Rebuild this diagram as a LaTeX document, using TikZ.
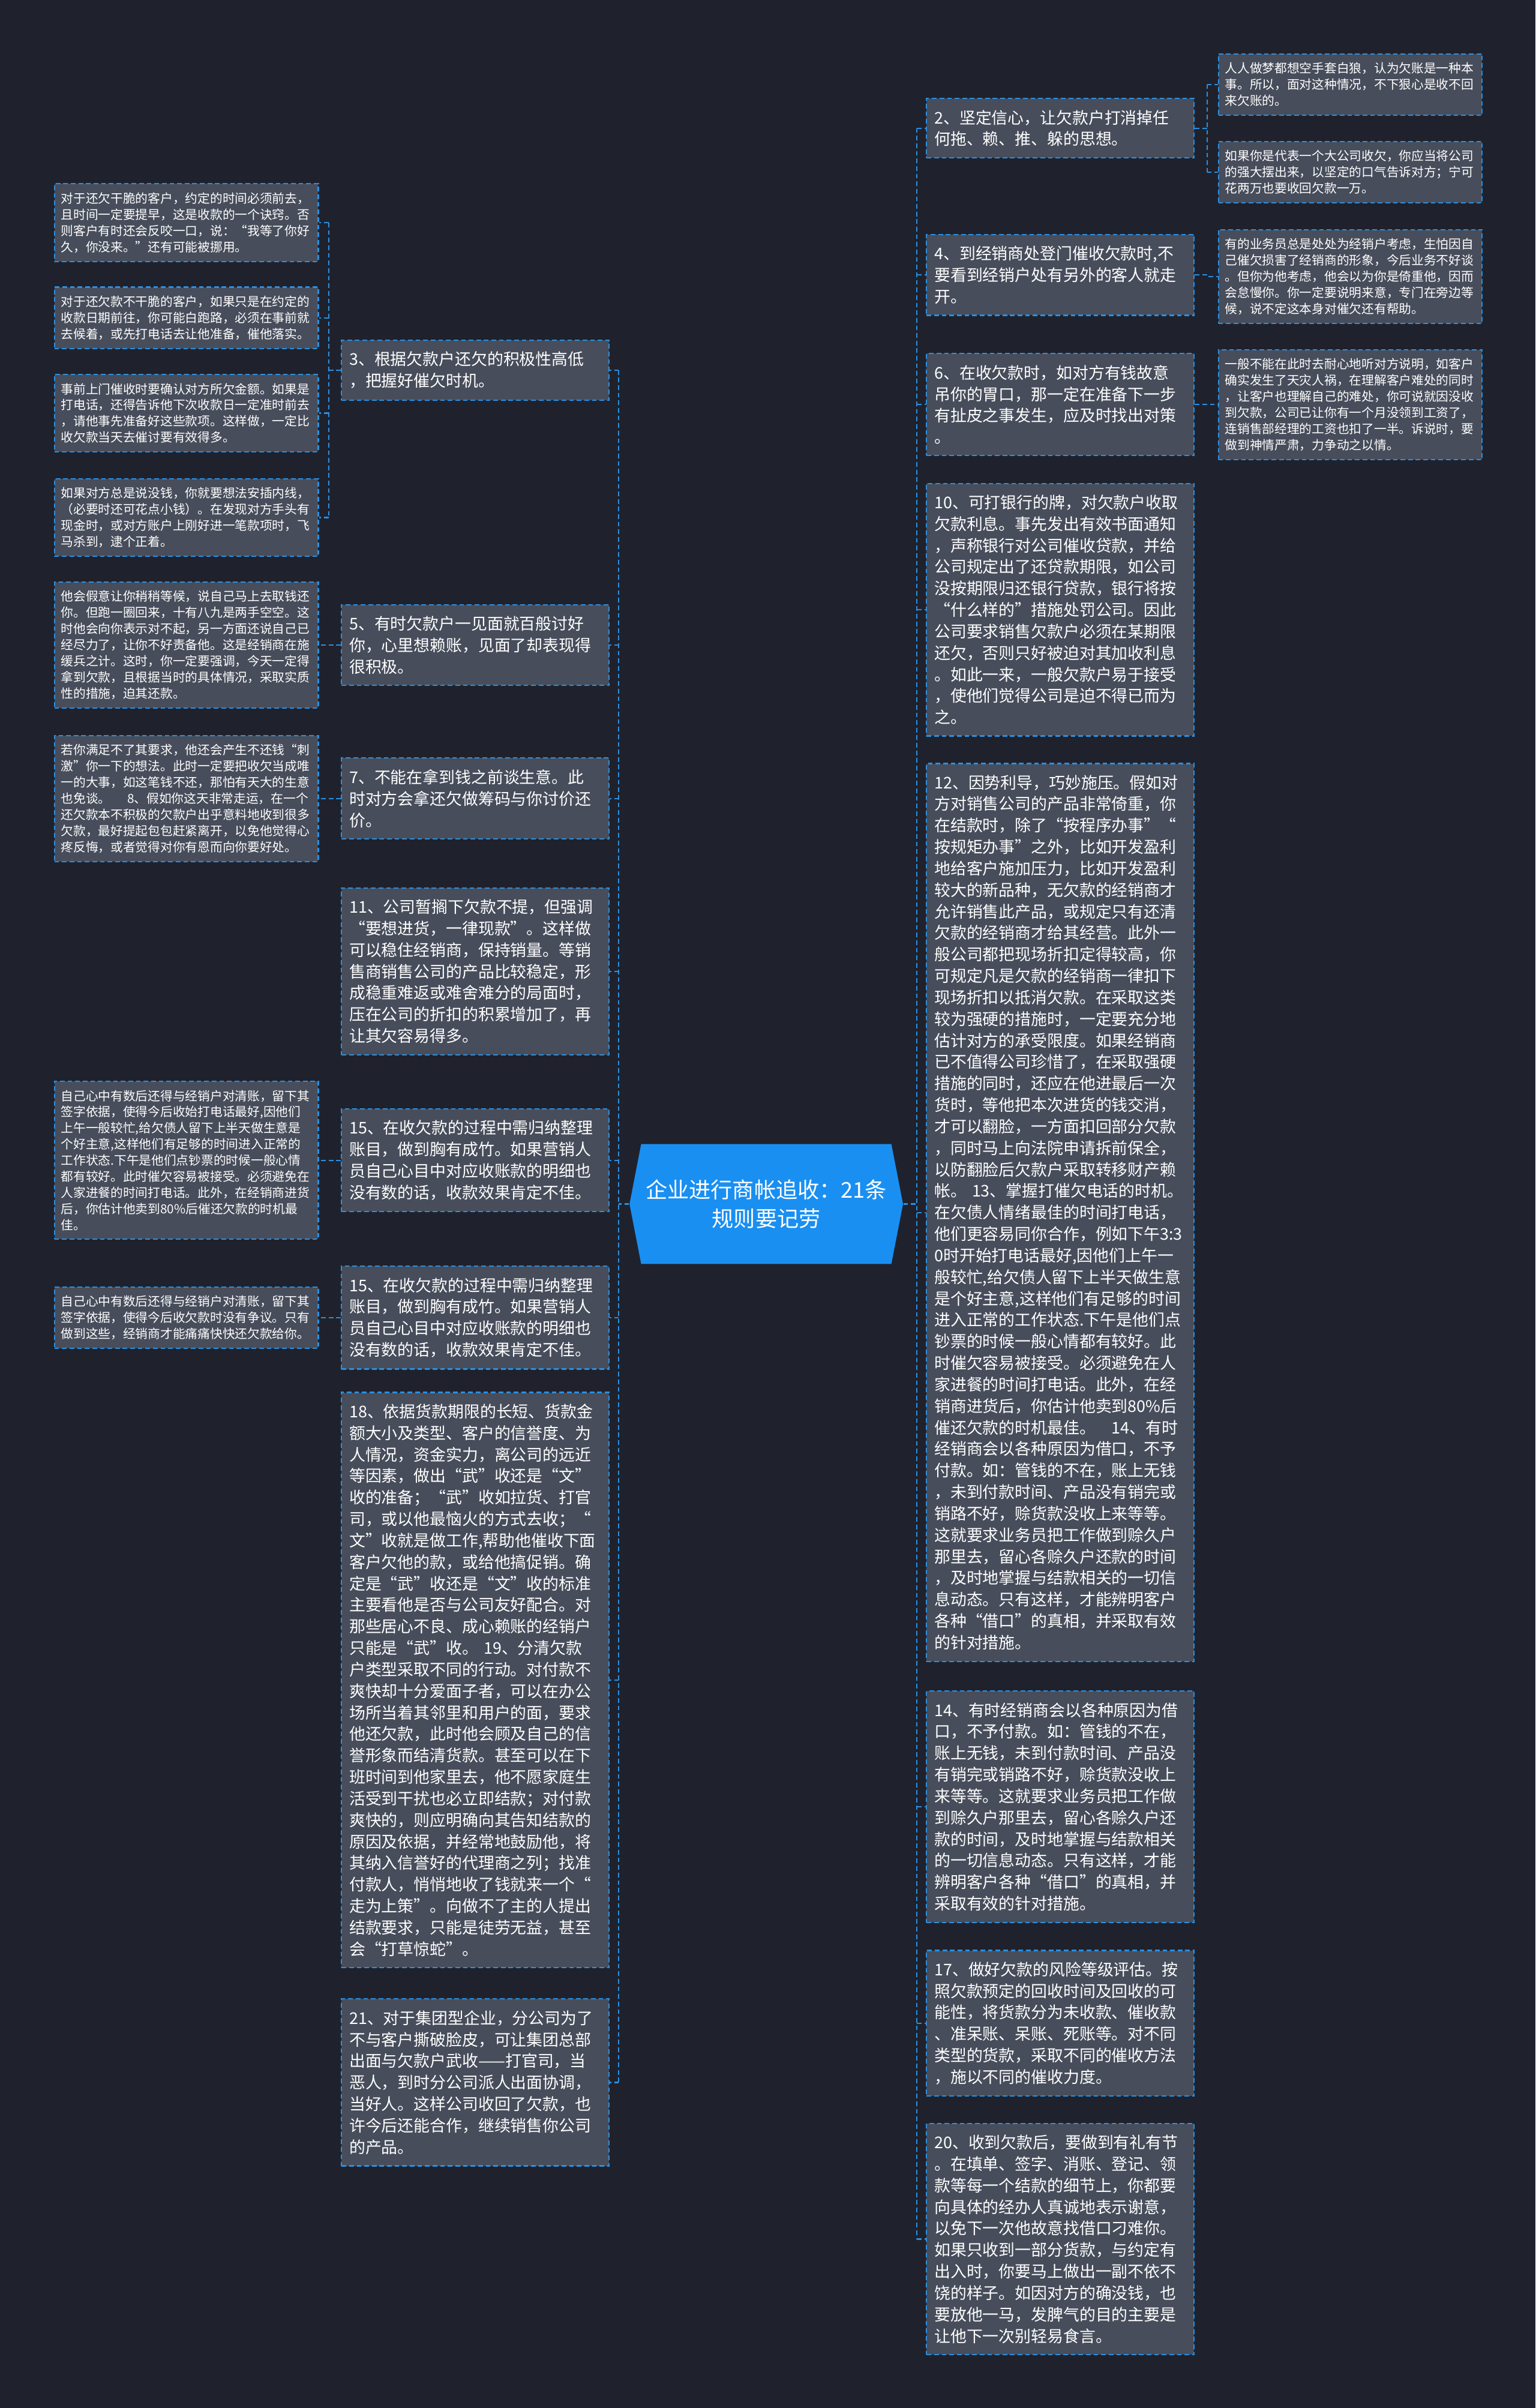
\documentclass[tikz,border=0pt]{standalone}
\usepackage{fontspec}
\setmainfont{Noto Sans CJK SC}
\usepackage{xcolor}
\usepackage{tikz}
\usetikzlibrary{shapes.symbols, calc}

\definecolor{bgc}{HTML}{1F222D}
\definecolor{boxc}{HTML}{474D5B}
\definecolor{linec}{HTML}{2B8FE0}
\definecolor{hubc}{HTML}{1A8FF2}

\begin{document}
\begin{tikzpicture}[
    x=0.0256cm, y=-0.0256cm,
    itembox/.style={draw=linec, line width=0.6pt, dash pattern=on 2.2pt off 1.4pt, fill=boxc, text=white,
        anchor=west, align=left, text width=4.2cm, inner xsep=0.13cm, inner ysep=0.19cm,
        font=\fontsize{7.65}{10.2}\selectfont},
    notebox/.style={itembox, text width=4.18cm, inner xsep=0.11cm, inner ysep=0.145cm,
        font=\fontsize{5.9}{7.65}\selectfont},
    hub/.style={shape=signal, signal to=west and east, signal pointer angle=158, fill=hubc, text=white,
        align=center, minimum width=4.56cm, minimum height=2cm, inner sep=0pt,
        font=\fontsize{10.3}{13.5}\selectfont},
    link/.style={draw=linec, line width=0.6pt, dash pattern=on 2.2pt off 1.4pt},
]
    \useasboundingbox (0,0) rectangle (1000,1568);
    \fill[bgc] (0,0) rectangle (1000,1568);

    % centre
    \node[hub] (ctr) at (499,784) {企业进行商帐追收：21条\\规则要记劳};

    % right column
    \node[itembox] (r2) at (603,83.5) {2、坚定信心，让欠款户打消掉任\\何拖、赖、推、躲的思想。};
    \node[itembox] (r4) at (603,179) {4、到经销商处登门催收欠款时,不\\要看到经销户处有另外的客人就走\\开。};
    \node[itembox] (r6) at (603,263.5) {6、在收欠款时，如对方有钱故意\\吊你的胃口，那一定在准备下一步\\有扯皮之事发生，应及时找出对策\\。};
    \node[itembox] (r10) at (603,397) {10、可打银行的牌，对欠款户收取\\欠款利息。事先发出有效书面通知\\，声称银行对公司催收贷款，并给\\公司规定出了还贷款期限，如公司\\没按期限归还银行贷款，银行将按\\“什么样的”措施处罚公司。因此\\公司要求销售欠款户必须在某期限\\还欠，否则只好被迫对其加收利息\\。如此一来，一般欠款户易于接受\\，使他们觉得公司是迫不得已而为\\之。};
    \node[itembox] (r12) at (603,789.5) {12、因势利导，巧妙施压。假如对\\方对销售公司的产品非常倚重，你\\在结款时，除了“按程序办事”“\\按规矩办事”之外，比如开发盈利\\地给客户施加压力，比如开发盈利\\较大的新品种，无欠款的经销商才\\允许销售此产品，或规定只有还清\\欠款的经销商才给其经营。此外一\\般公司都把现场折扣定得较高，你\\可规定凡是欠款的经销商一律扣下\\现场折扣以抵消欠款。在采取这类\\较为强硬的措施时，一定要充分地\\估计对方的承受限度。如果经销商\\已不值得公司珍惜了，在采取强硬\\措施的同时，还应在他进最后一次\\货时，等他把本次进货的钱交消，\\才可以翻脸，一方面扣回部分欠款\\，同时马上向法院申请拆前保全，\\以防翻脸后欠款户采取转移财产赖\\帐。~13、掌握打催欠电话的时机。\\在欠债人情绪最佳的时间打电话，\\他们更容易同你合作，例如下午3:3\\0时开始打电话最好,因他们上午一\\般较忙,给欠债人留下上半天做生意\\是个好主意,这样他们有足够的时间\\进入正常的工作状态.下午是他们点\\钞票的时候一般心情都有较好。此\\时催欠容易被接受。必须避免在人\\家进餐的时间打电话。此外，在经\\销商进货后，你估计他卖到80\%后\\催还欠款的时机最佳。~~~14、有时\\经销商会以各种原因为借口，不予\\付款。如：管钱的不在，账上无钱\\，未到付款时间、产品没有销完或\\销路不好，赊货款没收上来等等。\\这就要求业务员把工作做到赊久户\\那里去，留心各赊久户还款的时间\\，及时地掌握与结款相关的一切信\\息动态。只有这样，才能辨明客户\\各种“借口”的真相，并采取有效\\的针对措施。};
    \node[itembox] (r14) at (603,1176.5) {14、有时经销商会以各种原因为借\\口，不予付款。如：管钱的不在，\\账上无钱，未到付款时间、产品没\\有销完或销路不好，赊货款没收上\\来等等。这就要求业务员把工作做\\到赊久户那里去，留心各赊久户还\\款的时间，及时地掌握与结款相关\\的一切信息动态。只有这样，才能\\辨明客户各种“借口”的真相，并\\采取有效的针对措施。};
    \node[itembox] (r17) at (603,1317.5) {17、做好欠款的风险等级评估。按\\照欠款预定的回收时间及回收的可\\能性，将货款分为未收款、催收款\\、准呆账、呆账、死账等。对不同\\类型的货款，采取不同的催收方法\\，施以不同的催收力度。};
    \node[itembox] (r20) at (603,1458) {20、收到欠款后，要做到有礼有节\\。在填单、签字、消账、登记、领\\款等每一个结款的细节上，你都要\\向具体的经办人真诚地表示谢意，\\以免下一次他故意找借口刁难你。\\如果只收到一部分货款，与约定有\\出入时，你要马上做出一副不依不\\饶的样子。如因对方的确没钱，也\\要放他一马，发脾气的目的主要是\\让他下一次别轻易食言。};

    % right notes
    \node[notebox] (na) at (793,55) {人人做梦都想空手套白狼，认为欠账是一种本\\事。所以，面对这种情况，不下狠心是收不回\\来欠账的。};
    \node[notebox] (nb) at (793,112) {如果你是代表一个大公司收欠，你应当将公司\\的强大摆出来，以坚定的口气告诉对方；宁可\\花两万也要收回欠款一万。};
    \node[notebox] (nc) at (793,180) {有的业务员总是处处为经销户考虑，生怕因自\\己催欠损害了经销商的形象，今后业务不好谈\\。但你为他考虑，他会以为你是倚重他，因而\\会怠慢你。你一定要说明来意，专门在旁边等\\候，说不定这本身对催欠还有帮助。};
    \node[notebox] (nd) at (793,263.5) {一般不能在此时去耐心地听对方说明，如客户\\确实发生了天灾人祸，在理解客户难处的同时\\，让客户也理解自己的难处，你可说就因没收\\到欠款，公司已让你有一个月没领到工资了，\\连销售部经理的工资也扣了一半。诉说时，要\\做到神情严肃，力争动之以情。};

    % left column
    \node[itembox] (l3) at (222,241) {3、根据欠款户还欠的积极性高低\\，把握好催欠时机。};
    \node[itembox] (l5) at (222,420) {5、有时欠款户一见面就百般讨好\\你，心里想赖账，见面了却表现得\\很积极。};
    \node[itembox] (l7) at (222,520) {7、不能在拿到钱之前谈生意。此\\时对方会拿还欠做筹码与你讨价还\\价。};
    \node[itembox] (l11) at (222,632.5) {11、公司暂搁下欠款不提，但强调\\“要想进货，一律现款”。这样做\\可以稳住经销商，保持销量。等销\\售商销售公司的产品比较稳定，形\\成稳重难返或难舍难分的局面时，\\压在公司的折扣的积累增加了，再\\让其欠容易得多。};
    \node[itembox] (l15a) at (222,755.5) {15、在收欠款的过程中需归纳整理\\账目，做到胸有成竹。如果营销人\\员自己心目中对应收账款的明细也\\没有数的话，收款效果肯定不佳。};
    \node[itembox] (l15b) at (222,858) {15、在收欠款的过程中需归纳整理\\账目，做到胸有成竹。如果营销人\\员自己心目中对应收账款的明细也\\没有数的话，收款效果肯定不佳。};
    \node[itembox] (l18) at (222,1094) {18、依据货款期限的长短、货款金\\额大小及类型、客户的信誉度、为\\人情况，资金实力，离公司的远近\\等因素，做出“武”收还是“文”\\收的准备；“武”收如拉货、打官\\司，或以他最恼火的方式去收；“\\文”收就是做工作,帮助他催收下面\\客户欠他的款，或给他搞促销。确\\定是“武”收还是“文”收的标准\\主要看他是否与公司友好配合。对\\那些居心不良、成心赖账的经销户\\只能是“武”收。~19、分清欠款\\户类型采取不同的行动。对付款不\\爽快却十分爱面子者，可以在办公\\场所当着其邻里和用户的面，要求\\他还欠款，此时他会顾及自己的信\\誉形象而结清货款。甚至可以在下\\班时间到他家里去，他不愿家庭生\\活受到干扰也必立即结款；对付款\\爽快的，则应明确向其告知结款的\\原因及依据，并经常地鼓励他，将\\其纳入信誉好的代理商之列；找准\\付款人，悄悄地收了钱就来一个“\\走为上策”。向做不了主的人提出\\结款要求，只能是徒劳无益，甚至\\会“打草惊蛇”。};
    \node[itembox] (l21) at (222,1356) {21、对于集团型企业，分公司为了\\不与客户撕破脸皮，可让集团总部\\出面与欠款户武收——打官司，当\\恶人，到时分公司派人出面协调，\\当好人。这样公司收回了欠款，也\\许今后还能合作，继续销售你公司\\的产品。};

    % left notes
    \node[notebox] (n1) at (35,145) {对于还欠干脆的客户，约定的时间必须前去，\\且时间一定要提早，这是收款的一个诀窍。否\\则客户有时还会反咬一口，说：“我等了你好\\久，你没来。”还有可能被挪用。};
    \node[notebox] (n2) at (35,207) {对于还欠款不干脆的客户，如果只是在约定的\\收款日期前往，你可能白跑路，必须在事前就\\去候着，或先打电话去让他准备，催他落实。};
    \node[notebox] (n3) at (35,269) {事前上门催收时要确认对方所欠金额。如果是\\打电话，还得告诉他下次收款日一定准时前去\\，请他事先准备好这些款项。这样做，一定比\\收欠款当天去催讨要有效得多。};
    \node[notebox] (n4) at (35,337) {如果对方总是说没钱，你就要想法安插内线，\\（必要时还可花点小钱）。在发现对方手头有\\现金时，或对方账户上刚好进一笔款项时，飞\\马杀到，逮个正着。};
    \node[notebox] (n5) at (35,420) {他会假意让你稍稍等候，说自己马上去取钱还\\你。但跑一圈回来，十有八九是两手空空。这\\时他会向你表示对不起，另一方面还说自己已\\经尽力了，让你不好责备他。这是经销商在施\\缓兵之计。这时，你一定要强调，今天一定得\\拿到欠款，且根据当时的具体情况，采取实质\\性的措施，迫其还款。};
    \node[notebox] (n6) at (35,520) {若你满足不了其要求，他还会产生不还钱“刺\\激”你一下的想法。此时一定要把收欠当成唯\\一的大事，如这笔钱不还，那怕有天大的生意\\也免谈。~~~~8、假如你这天非常走运，在一个\\还欠款本不积极的欠款户出乎意料地收到很多\\欠款，最好提起包包赶紧离开，以免他觉得心\\疼反悔，或者觉得对你有恩而向你要好处。};
    \node[notebox] (n7) at (35,755.5) {自己心中有数后还得与经销户对清账，留下其\\签字依据，使得今后收始打电话最好,因他们\\上午一般较忙,给欠债人留下上半天做生意是\\个好主意,这样他们有足够的时间进入正常的\\工作状态.下午是他们点钞票的时候一般心情\\都有较好。此时催欠容易被接受。必须避免在\\人家进餐的时间打电话。此外，在经销商进货\\后，你估计他卖到80\%后催还欠款的时机最\\佳。};
    \node[notebox] (n8) at (35,858) {自己心中有数后还得与经销户对清账，留下其\\签字依据，使得今后收欠款时没有争议。只有\\做到这些，经销商才能痛痛快快还欠款给你。};

    % connectors
    \coordinate (rbus) at (597,0);
    \coordinate (lbus) at (403,0);
    \coordinate (rnb) at (786,0);
    \coordinate (lnb) at (214,0);

    \draw[link] (ctr.east) -- (rbus |- ctr.east);
    \draw[link] (ctr.west) -- (lbus |- ctr.west);
    \draw[link] (rbus |- r2.west) -- (rbus |- r20.west);
    \draw[link] (lbus |- l3.east) -- (lbus |- l21.east);
    \foreach \n in {r2,r4,r6,r10,r12,r14,r17,r20}
        \draw[link] (rbus |- \n.west) -- (\n.west);
    \foreach \n in {l3,l5,l7,l11,l15a,l15b,l18,l21}
        \draw[link] (lbus |- \n.east) -- (\n.east);

    \draw[link] (r2.east) -- (rnb |- r2.east);
    \draw[link] (rnb |- na.west) -- (rnb |- nb.west);
    \foreach \n in {na,nb}
        \draw[link] (rnb |- \n.west) -- (\n.west);
    \draw[link] (r4.east) -- (rnb |- r4.east) |- (nc.west);
    \draw[link] (r6.east) -- (nd.west);

    \draw[link] (l3.west) -- (lnb |- l3.west);
    \draw[link] (lnb |- n1.east) -- (lnb |- n4.east);
    \foreach \n in {n1,n2,n3,n4}
        \draw[link] (lnb |- \n.east) -- (\n.east);
    \draw[link] (l5.west) -- (n5.east);
    \draw[link] (l7.west) -- (n6.east);
    \draw[link] (l15a.west) -- (n7.east);
    \draw[link] (l15b.west) -- (n8.east);
\end{tikzpicture}
\end{document}
